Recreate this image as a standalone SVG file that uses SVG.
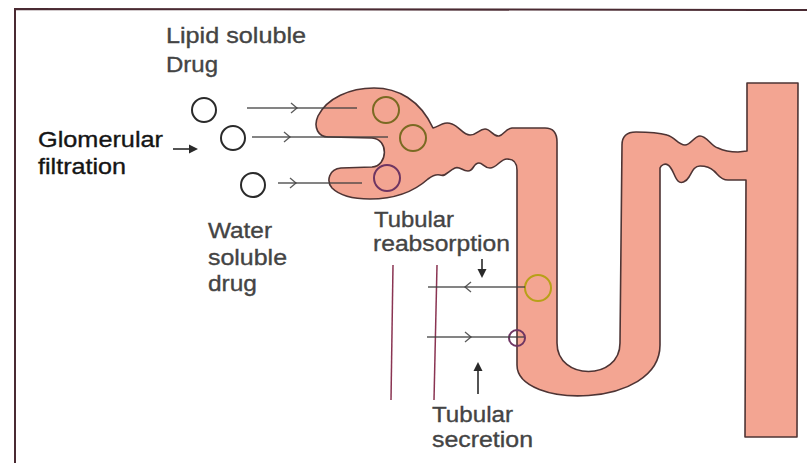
<svg xmlns="http://www.w3.org/2000/svg" width="807" height="463" viewBox="0 0 807 463">
  <style>
    .frame { fill: none; stroke: #4a2a32; stroke-width: 2; }
    .tubule { fill: #f3a592; stroke: #4e3434; stroke-width: 1.6; stroke-linejoin: round; }
    .flow { fill: none; stroke: #3e3e3e; stroke-width: 1.5; stroke-opacity: 0.85; }
    .chev { fill: none; stroke: #3e3e3e; stroke-width: 1.3; stroke-opacity: 0.85; }
    .drug { fill: none; stroke: #2a2a2a; stroke-width: 2; }
    .lipid { fill: none; stroke: #7a6a22; stroke-width: 2; }
    .reab { fill: none; stroke: #b8a018; stroke-width: 2; }
    .water { fill: none; stroke: #6e3562; stroke-width: 2; }
    .wall { fill: none; stroke: #8a3452; stroke-width: 1.5; }
    .lbl { font-family: "Liberation Sans", Arial, sans-serif; font-size: 22px; fill: #444; stroke: #444; stroke-width: 0.35; }
    .lbl-dark { fill: #151515; stroke: #151515; }
    .ptr { fill: none; stroke: #2a2a2a; stroke-width: 1.6; }
    .ptr-head { fill: #2a2a2a; }
  </style>

  <!-- frame edges -->
  <path class="frame" d="M15,463 L15,9 L807,10"/>

  <!-- nephron: capsule, proximal tube, loop, distal tube and collecting duct -->
  <g id="nephron">
    <path class="tubule" d="
      M330,137
      C318,138 313,127 318,116
      C327,98 350,88 374,88
      C398,88 420,100 433,128
      C440,126 444,121 452,124
      C460,127 463,135 470,135
      C477,135 479,129 485,129
      C491,129 493,137 499,136
      C504,135 505,129 512,128
      L545,128
      Q557,128 557,142
      L557,343
      C557,381 620,381 620,343
      L622,145
      Q622,132 636,132
      C650,132 660,133 667,135
      C675,137 678,145 685,145
      C691,145 694,136 700,136
      C707,136 711,146 718,148
      C724,151 730,152 738,152
      L747,151
      L747,83 L798,83 L797,437 L745,437 L746,180
      L728,180
      C720,180 718,174 714,171
      C710,167 705,166 700,166
      C694,166 692,172 689,177
      C686,182 681,184 678,181
      C674,177 673,168 668,165
      C665,163 661,165 660,168
      L660,345
      C660,409 517,409 517,365
      L517,170
      Q517,159 507,159
      C500,159 497,168 490,168
      C484,168 483,163 479,163
      C473,163 474,171 468,171
      C462,171 460,166 455,168
      C448,171 446,177 440,175
      C436,174 432,176 428,179
      C418,188 400,199 370,199
      C355,199 340,196 332,188
      C326,181 329,169 341,168
      L372,167
      C388,166 389,139 372,138
      Z"/>
  </g>

  <!-- drug particles -->
  <g id="free-drugs">
    <circle class="drug" cx="204" cy="110" r="12"/>
    <circle class="drug" cx="233" cy="138" r="12"/>
    <circle class="drug" cx="253" cy="185" r="12"/>
  </g>
  <g id="capsule-drugs">
    <circle class="lipid" cx="386" cy="110" r="13"/>
    <circle class="lipid" cx="413" cy="138" r="13"/>
    <circle class="water" cx="387" cy="178" r="13"/>
  </g>
  <g id="tubule-drugs">
    <circle class="reab" cx="538" cy="288" r="13"/>
    <circle class="water" cx="517" cy="338" r="8"/>
  </g>

  <!-- peritubular vessel walls -->
  <g id="vessel">
    <line class="wall" x1="393" y1="265" x2="391" y2="400"/>
    <line class="wall" x1="437" y1="265" x2="434" y2="400"/>
  </g>

  <!-- flow lines with mid-line chevrons -->
  <g id="connectors">
    <line class="flow" x1="247" y1="108" x2="357" y2="108"/>
    <path class="chev" d="M291,103 L297,108 L291,113"/>
    <line class="flow" x1="252" y1="137" x2="388" y2="137"/>
    <path class="chev" d="M284,132 L290,137 L284,142"/>
    <line class="flow" x1="278" y1="183" x2="362" y2="183"/>
    <path class="chev" d="M290,178 L296,183 L290,188"/>
    <line class="flow" x1="428" y1="287" x2="525" y2="287"/>
    <path class="chev" d="M471,282 L465,287 L471,292"/>
    <line class="flow" x1="427" y1="337" x2="524" y2="337"/>
    <path class="chev" d="M465,332 L471,337 L465,342"/>

    <!-- label pointers -->
    <line class="ptr" x1="173" y1="149" x2="190" y2="149"/>
    <path class="ptr-head" d="M198,149 L189,144.5 L189,153.5 Z"/>
    <line class="ptr" x1="482" y1="259" x2="482" y2="270"/>
    <path class="ptr-head" d="M482,278 L477.5,269 L486.5,269 Z"/>
    <line class="ptr" x1="478" y1="394" x2="478" y2="370"/>
    <path class="ptr-head" d="M478,362 L473.5,371 L482.5,371 Z"/>
  </g>

  <!-- labels -->
  <g id="labels">
    <text class="lbl" x="166" y="43" textLength="140" lengthAdjust="spacingAndGlyphs">Lipid soluble</text>
    <text class="lbl" x="166" y="72" textLength="52" lengthAdjust="spacingAndGlyphs">Drug</text>
    <text class="lbl lbl-dark" x="38" y="147" textLength="125" lengthAdjust="spacingAndGlyphs">Glomerular</text>
    <text class="lbl lbl-dark" x="38" y="174" textLength="88" lengthAdjust="spacingAndGlyphs">filtration</text>
    <text class="lbl" x="208" y="238" textLength="64" lengthAdjust="spacingAndGlyphs">Water</text>
    <text class="lbl" x="208" y="265" textLength="79" lengthAdjust="spacingAndGlyphs">soluble</text>
    <text class="lbl" x="208" y="291" textLength="49" lengthAdjust="spacingAndGlyphs">drug</text>
    <text class="lbl" x="374" y="227" textLength="80" lengthAdjust="spacingAndGlyphs">Tubular</text>
    <text class="lbl" x="373" y="251" textLength="137" lengthAdjust="spacingAndGlyphs">reabsorption</text>
    <text class="lbl" x="432" y="422" textLength="81" lengthAdjust="spacingAndGlyphs">Tubular</text>
    <text class="lbl" x="432" y="447" textLength="101" lengthAdjust="spacingAndGlyphs">secretion</text>
  </g>
</svg>
